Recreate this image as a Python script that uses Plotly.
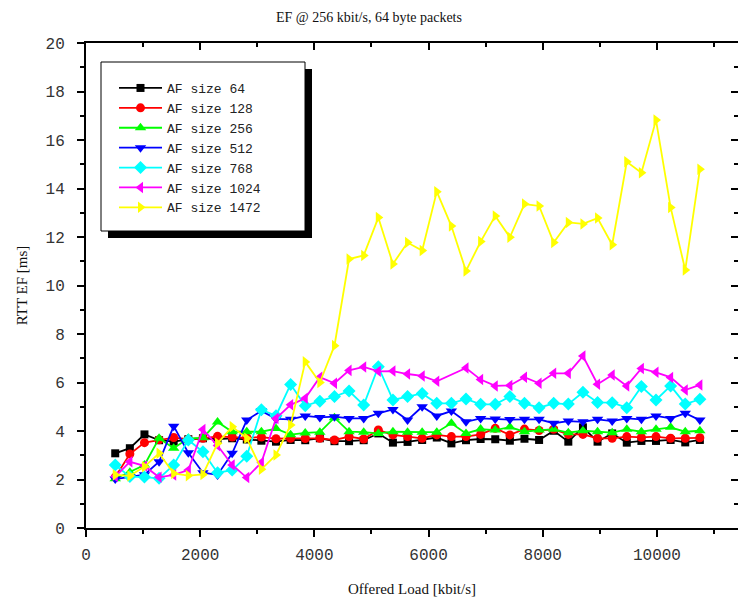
import plotly.graph_objects as go

# Offered load (kbit/s)
offered_load = [512 + 256 * i for i in range(41)]

af_64 = [3.08, 3.29, 3.86, 3.62, 3.56, 3.66, 3.70, 3.67, 3.70, 3.65, 3.60, 3.56, 3.63, 3.62, 3.70,
         3.58, 3.58, 3.62, 3.90, 3.52, 3.55, 3.63, 3.73, 3.49, 3.62, 3.67, 3.66, 3.60, 3.68, 3.63,
         4.01, 3.56, 4.15, 3.56, 3.90, 3.52, 3.59, 3.59, 3.63, 3.53, 3.63]
af_128 = [2.10, 3.05, 3.52, 3.64, 3.73, 3.66, 3.70, 3.78, 3.75, 3.72, 3.75, 3.68, 3.70, 3.69, 3.70,
          3.63, 3.77, 3.67, 4.04, 3.84, 3.77, 3.70, 3.84, 3.77, 3.77, 3.86, 4.11, 3.84, 4.08, 4.02,
          4.07, 3.86, 3.86, 3.70, 3.70, 3.77, 3.74, 3.77, 3.70, 3.70, 3.72]
af_256 = [2.03, 2.30, 2.60, 3.70, 3.29, 3.70, 3.72, 4.37, 3.97, 3.97, 3.97, 4.10, 3.85, 3.92, 3.95,
          4.55, 3.97, 3.95, 3.90, 3.97, 3.95, 3.95, 3.95, 4.32, 3.90, 4.08, 4.04, 4.16, 3.97, 4.04,
          4.07, 3.93, 4.01, 3.97, 3.93, 4.07, 3.97, 4.07, 4.15, 3.97, 4.01]
af_512 = [2.02, 2.12, 2.20, 2.73, 4.20, 3.10, 2.28, 2.19, 3.08, 4.45, 4.83, 4.50, 4.48, 4.62, 4.56,
          4.59, 4.52, 4.52, 4.73, 4.89, 4.45, 5.00, 4.62, 4.82, 4.38, 4.52, 4.49, 4.47, 4.48, 4.48,
          4.32, 4.41, 4.38, 4.48, 4.41, 4.52, 4.48, 4.62, 4.52, 4.73, 4.45]
af_768 = [2.60, 2.12, 2.10, 2.05, 2.60, 3.63, 3.14, 2.28, 2.39, 2.96, 4.88, 4.63, 5.92, 5.04, 5.23,
          5.42, 5.65, 5.07, 6.65, 5.28, 5.42, 5.55, 5.14, 5.14, 5.32, 5.10, 5.10, 5.42, 5.14, 4.96,
          5.14, 5.11, 5.60, 5.18, 5.17, 4.96, 5.83, 5.28, 5.86, 5.11, 5.31]
af_1024 = [2.12, 2.73, 2.56, 2.09, 2.19, 2.39, 4.06, 3.40, 2.60, 2.08, 2.70, 4.52, 5.08, 5.35, 6.22,
           5.97, 6.50, 6.64, 6.46, 6.47, 6.35, 6.27, 6.05, None, 6.60, 6.12, 5.86, 5.88, 6.22, 5.97,
           6.38, 6.38, 7.09, 5.93, 6.31, 5.86, 6.58, 6.42, 6.21, 5.69, 5.90]
af_1472 = [2.19, 2.15, 2.53, 3.08, 2.25, 2.16, 2.21, 3.49, 4.18, 3.70, 2.42, 3.01, 4.25, 6.85, 6.00,
           7.52, 11.09, 11.24, 12.80, 10.89, 11.77, 11.44, 13.87, 12.45, 10.60, 11.81, 12.87, 11.99, 13.36, 13.28,
           11.77, 12.60, 12.54, 12.78, 11.68, 15.10, 14.65, 16.82, 13.22, 10.64, 14.79]

series_names = ["AF size 64", "AF size 128", "AF size 256", "AF size 512",
                "AF size 768", "AF size 1024", "AF size 1472"]
series_values = [af_64, af_128, af_256, af_512, af_768, af_1024, af_1472]
series_colors = ["#000000", "#FF0000", "#00FF00", "#0000FF", "#00FFFF", "#FF00FF", "#FFFF00"]
series_symbols = ["square", "circle", "triangle-up", "triangle-down", "diamond",
                  "triangle-left", "triangle-right"]
series_sizes = [8, 9, 10, 10, 10, 10, 10]

fig = go.Figure()
for name, vals, col, sym, sz in zip(series_names, series_values, series_colors,
                                    series_symbols, series_sizes):
    fig.add_trace(go.Scatter(
        x=offered_load, y=vals, name=name, mode="lines+markers",
        connectgaps=True,
        line=dict(color=col, width=1.8),
        marker=dict(symbol=sym, size=sz, color=col, line=dict(width=0)),
    ))

# invisible trace to carry mirrored axes
fig.add_trace(go.Scatter(x=[None], y=[None], xaxis="x2", yaxis="y2",
                         showlegend=False, hoverinfo="skip"))

W, H = 738, 604
L, R, T, B = 86, 0, 43, 76
pw, ph = W - L - R, H - T - B

def px_x(p):
    return (p - L) / pw

def px_y(p):
    return (H - B - p) / ph

tickfont = dict(family="Liberation Mono", size=16, color="#333333")
xr = [0, 11420]
yr = [0, 20]

fig.update_layout(
    width=W, height=H,
    margin=dict(l=L, r=R, t=T, b=B),
    paper_bgcolor="white", plot_bgcolor="white",
    title=dict(text="EF @ 256 kbit/s, 64 byte packets", x=0.5, xanchor="center",
               y=1 - 17 / H, yanchor="middle",
               font=dict(family="Liberation Serif", size=14, color="#111111")),
    xaxis=dict(range=xr, tickmode="linear", tick0=0, dtick=2000, tickformat="d",
               ticks="outside", ticklen=7, tickwidth=1.5, tickcolor="black",
               showline=True, linewidth=2, linecolor="black", showgrid=False,
               zeroline=False, tickfont=tickfont, ticklabelstandoff=4,
               minor=dict(dtick=1000, ticks="outside", ticklen=4, tickwidth=1.5,
                          tickcolor="black", showgrid=False),
               title=dict(text="Offered Load [kbit/s]", standoff=19,
                          font=dict(family="Liberation Serif", size=15, color="#111111"))),
    xaxis2=dict(range=xr, overlaying="x", side="top", tickmode="linear", tick0=0,
                dtick=2000, ticks="inside", ticklen=7, tickwidth=1.5, tickcolor="black",
                showline=True, linewidth=2, linecolor="black", showgrid=False,
                zeroline=False, showticklabels=False,
                minor=dict(dtick=1000, ticks="inside", ticklen=4, tickwidth=1.5,
                           tickcolor="black", showgrid=False)),
    yaxis=dict(range=yr, tickmode="linear", tick0=0, dtick=2, ticks="outside",
               ticklen=7, tickwidth=1.5, tickcolor="black",
               showline=True, linewidth=2, linecolor="black", showgrid=False,
               zeroline=False, tickfont=tickfont, ticklabelstandoff=9,
               minor=dict(dtick=1, ticks="outside", ticklen=4, tickwidth=1.5,
                          tickcolor="black", showgrid=False),
               title=dict(text="RTT EF [ms]", standoff=14,
                          font=dict(family="Liberation Serif", size=15, color="#111111"))),
    yaxis2=dict(range=yr, overlaying="y", side="right", tickmode="linear", tick0=0,
                dtick=2, ticks="inside", ticklen=7, tickwidth=1.5, tickcolor="black",
                showline=True, linewidth=2, linecolor="black", showgrid=False,
                zeroline=False, showticklabels=False,
                minor=dict(dtick=1, ticks="inside", ticklen=4, tickwidth=1.5,
                           tickcolor="black", showgrid=False)),
    legend=dict(x=px_x(114), y=px_y(73), xanchor="left", yanchor="top",
                bgcolor="rgba(0,0,0,0)", borderwidth=0,
                font=dict(family="Liberation Mono", size=13, color="#222222"),
                itemwidth=43, tracegroupgap=0),
    showlegend=True,
    shapes=[
        dict(type="rect", xref="paper", yref="paper",
             x0=px_x(108), x1=px_x(312), y0=px_y(238), y1=px_y(69),
             fillcolor="black", line=dict(width=0), layer="above"),
        dict(type="rect", xref="paper", yref="paper",
             x0=px_x(101), x1=px_x(305), y0=px_y(231), y1=px_y(62),
             fillcolor="white", line=dict(color="black", width=1), layer="above"),
    ],
)

fig.write_html("out.html")
